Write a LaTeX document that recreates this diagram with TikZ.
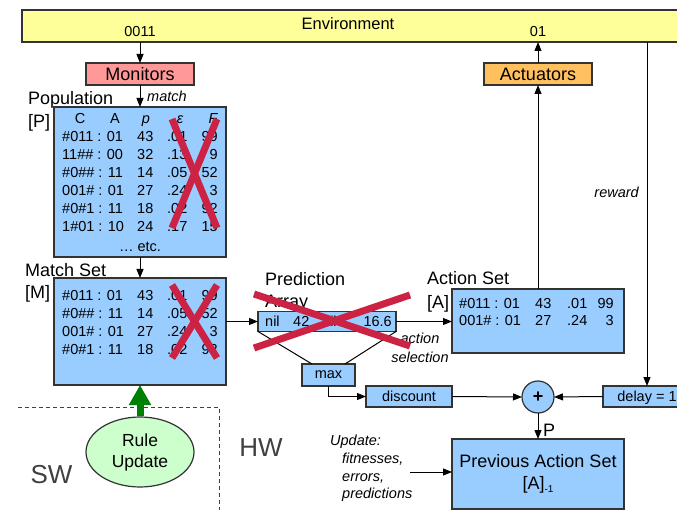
\documentclass[tikz,border=0pt]{standalone}
\usepackage{fontspec}
\setmainfont{Liberation Sans}
\usetikzlibrary{arrows.meta,calc,shapes.geometric}

\definecolor{edge}{HTML}{333333}
\definecolor{envyellow}{HTML}{FFFF99}
\definecolor{monpink}{HTML}{FF9999}
\definecolor{actorange}{HTML}{FFC060}
\definecolor{setblue}{HTML}{99CCFF}
\definecolor{rulegreen}{HTML}{CCFFCC}
\definecolor{updgreen}{HTML}{008000}
\definecolor{xred}{HTML}{CC2244}
\definecolor{zonegray}{HTML}{404040}

% one row of a classifier table: condition:action, prediction, error, fitness
\newcommand\tabrow[7]{%
  \node[row]  (#1c) at (#2,#3)     {#4};
  \node[row]  (#1p) at (#2+75,#3)  {#5};
  \node[row]  (#1e) at (#2+105,#3) {#6};
  \node[rowr] (#1f) at (#2+156,#3) {#7};}

\begin{document}
\begin{tikzpicture}[x=1pt,y=-1pt,
  box/.style={draw=edge,line width=1.2pt,inner sep=0pt,outer sep=0pt},
  onebox/.style={box,text depth=0pt,font=\fontsize{14.5}{17}\selectfont},
  bigbox/.style={box,text depth=0pt,font=\fontsize{18}{22}\selectfont},
  lbl/.style={font=\fontsize{18}{22}\selectfont,inner sep=0pt,anchor=base west},
  row/.style={font=\fontsize{14.5}{17}\selectfont,inner sep=0pt,anchor=base west},
  rowr/.style={row,anchor=base east},
  hdr/.style={row,anchor=base},
  note/.style={font=\fontsize{14.5}{17}\selectfont\itshape,inner sep=0pt},
  arr/.style={-{Triangle[length=9pt,width=7pt]},line width=1pt,draw=black},
  link/.style={line width=1pt,draw=black},
  cross/.style={draw=xred,line width=7pt},
  zone/.style={font=\fontsize{26}{30}\selectfont,text=zonegray,inner sep=0pt,anchor=base}]

\useasboundingbox (0,0) rectangle (677,510);
\clip (0,0) rectangle (677,510);

% environment strip
\node[box,fill=envyellow,minimum width=700pt,minimum height=32pt] (env) at (372,26) {};
\node[font=\fontsize{16.5}{20}\selectfont,inner sep=0pt,anchor=base] (envtxt) at (348,30) {Environment};
\node[row,anchor=base] (inbits) at (140,36.7) {0011};
\node[row,anchor=base] (outbits) at (538,36.7) {01};

% detectors and effectors
\node[bigbox,fill=monpink,minimum width=108pt,minimum height=22pt] (mon) at (140,74) {Monitors};
\node[bigbox,fill=actorange,minimum width=108pt,minimum height=22pt] (actu) at (538,74) {Actuators};

% population [P]
\node[lbl] (poplbl) at (28,105) {Population};
\node[lbl] (popsym) at (28,128) {[P]};
\node[box,fill=setblue,minimum width=172pt,minimum height=150pt] (pop) at (140,182) {};
\node[hdr] (hC) at (80,123.3) {C};
\node[hdr] (hA) at (115,123.3) {A};
\node[hdr] (hp) at (146,123.3) {\itshape p};
\node[hdr] (he) at (180,123.3) {\itshape ε};
\node[hdr] (hF) at (213,123.3) {\itshape F};
\tabrow{pa}{62}{141.7}{\#011 : 01}{43}{.01}{99}
\tabrow{pb}{62}{160}{11\#\# : 00}{32}{.13}{9}
\tabrow{pc}{62}{177.7}{\#0\#\# : 11}{14}{.05}{52}
\tabrow{pd}{62}{196}{001\# : 01}{27}{.24}{3}
\tabrow{pe}{62}{213.7}{\#0\#1 : 11}{18}{.02}{92}
\tabrow{pf}{62}{232}{1\#01 : 10}{24}{.17}{15}
\node[hdr] (petc) at (140,251.7) {\dots\ etc.};

% match set [M]
\node[lbl] (mlbl) at (25,277) {Match Set};
\node[lbl] (msym) at (25,299) {[M]};
\node[box,fill=setblue,minimum width=172pt,minimum height=107pt] (match) at (140,331.5) {};
\tabrow{ma}{62}{300.7}{\#011 : 01}{43}{.01}{99}
\tabrow{mb}{62}{318.3}{\#0\#\# : 11}{14}{.05}{52}
\tabrow{mc}{62}{336.7}{001\# : 01}{27}{.24}{3}
\tabrow{md}{62}{355}{\#0\#1 : 11}{18}{.02}{92}

% prediction array
\node[lbl] (plbl) at (265,286) {Prediction};
\node[lbl] (psym) at (265,308) {Array};
\node[box,fill=setblue,minimum width=138pt,minimum height=20pt] (pred) at (327,321.5) {};
\node[row] (pv1) at (265,326.7) {nil};
\node[row] (pv2) at (293,326.7) {42};
\node[row] (pv3) at (322,326.7) {nil};
\node[rowr] (pv4) at (392,326.7) {16.6};

% action set [A]
\node[lbl] (albl) at (427,285) {Action Set};
\node[lbl] (asym) at (427,309) {[A]};
\node[box,fill=setblue,minimum width=172pt,minimum height=64pt] (act) at (538,321) {};
\node[row]  (aac) at (459,308.3) {\#011 : 01};
\node[row]  (aap) at (535,308.3) {43};
\node[row]  (aae) at (567,308.3) {.01};
\node[rowr] (aaf) at (614,308.3) {99};
\node[row]  (abc) at (459,326) {001\# : 01};
\node[row]  (abp) at (535,326) {27};
\node[row]  (abe) at (567,326) {.24};
\node[rowr] (abf) at (614,326) {3};

% payoff computation
\node[onebox,fill=setblue,minimum width=53pt,minimum height=22pt] (max) at (328.5,375) {max};
\node[onebox,fill=setblue,minimum width=86pt,minimum height=21pt] (disc) at (409,396.5) {discount};
\node[box,circle,fill=setblue,minimum size=32pt] (plus) at (538,397) {\fontsize{18}{20}\selectfont\bfseries +};
\node[onebox,fill=setblue,minimum width=88pt,minimum height=21pt] (delay) at (647,396.5) {delay = 1};
\node[box,fill=setblue,minimum width=172pt,minimum height=70pt] (prev) at (538,474) {};
\node[font=\fontsize{18}{22}\selectfont,inner sep=0pt,anchor=base] (prevtxt) at (538,467.3) {Previous Action Set};
\node[font=\fontsize{18}{22}\selectfont,inner sep=0pt,anchor=base] (prevsym) at (538,489.5) {[A]\raisebox{-3pt}{\fontsize{10}{12}\selectfont -1}};

% annotations
\node[note,anchor=base west] (matchtxt) at (147,101.7) {match};
\node[note,anchor=base east] (rewtxt) at (639,198) {reward};
\node[note,anchor=base] (seltxt1) at (420,344) {action};
\node[note,anchor=base] (seltxt2) at (420,362.5) {selection};
\node[note,anchor=base west] (upd1) at (330,445) {Update:};
\node[note,anchor=base west] (upd2) at (342,463) {fitnesses,};
\node[note,anchor=base west] (upd3) at (342,481) {errors,};
\node[note,anchor=base west] (upd4) at (342,498) {predictions};
\node[font=\fontsize{18}{22}\selectfont,inner sep=0pt,anchor=base west] (ptxt) at (543,436) {P};

% software / hardware split
\draw[zonegray,line width=1pt,dash pattern=on 4pt off 3pt] (18,407) -- (219,407) -- (219,515);
\node[zone] (swtxt) at (51.5,483) {SW};
\node[zone] (hwtxt) at (261,456) {HW};
\node[ellipse,draw=edge,line width=1.2pt,fill=rulegreen,minimum width=108pt,minimum height=70pt,inner sep=0pt,align=center,font=\fontsize{17.5}{21}\selectfont] (rule) at (140,452) {Rule\\Update};

% connectors
\draw[arr] (env.south -| mon.north) -- (mon.north);
\draw[arr] (mon.south) -- (pop.north);
\draw[arr] (pop.south) -- (match.north);
\draw[arr] (pred.west -| match.east) -- (pred.west);
\draw[arr] (pred.east) -- (pred.east -| act.west);
\draw[arr] (act.north) -- (actu.south);
\draw[arr] (actu.north) -- (actu.north |- env.south);
\draw[arr] (delay.north |- env.south) -- (delay.north);
\draw[arr] (delay.west) -- (plus.east);
\draw[arr] (disc.east) -- (plus.west);
\draw[arr] (max.south) |- (disc.west);
\draw[link] (pred.south west) -- ($(max.north west)+(10,0)$);
\draw[link] (pred.south east) -- ($(max.north east)+(-10,0)$);
\draw[arr] (plus.south) -- (prev.north);
\coordinate (updfrom) at (410,472);
\draw[arr] (updfrom) -- (updfrom -| prev.west);
\draw[updgreen,line width=7pt,-{Triangle[length=20pt,width=21pt]}] (rule.north) -- (match.south);

% struck-out columns and array
\draw[cross] (172,119) -- (217,228);
\draw[cross] (217,119) -- (172,228);
\draw[cross] (172,285) -- (217,358);
\draw[cross] (217,285) -- (172,358);
\draw[cross] (254,294) -- (410,346);
\draw[cross] (254,348) -- (410,295);
\end{tikzpicture}
\end{document}
